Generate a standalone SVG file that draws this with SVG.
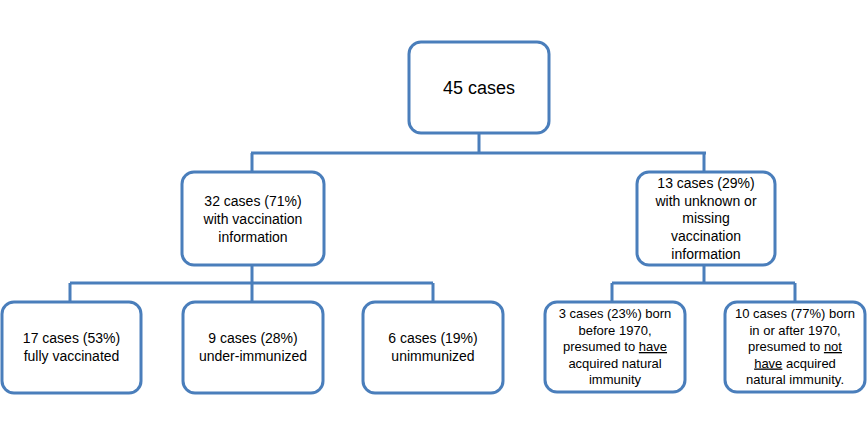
<svg xmlns="http://www.w3.org/2000/svg" width="867" height="442" viewBox="0 0 867 442">
<style>
.box{fill:#fff;stroke:#4a7ebb;stroke-width:3}
.ln{fill:none;stroke:#4a7ebb;stroke-width:3}
text{font-family:"Liberation Sans",Arial,sans-serif;fill:#000;text-anchor:middle}
.m{font-size:14px}
.s{font-size:13px}
.u{text-decoration:underline}
</style>
<rect width="867" height="442" fill="#fff"/>
<g id="connectors">
<path class="ln" d="M479 133V153M251 153H706M252 153V172M704 153V172"/>
<path class="ln" d="M252 265V283M70 283H433M70 283V302M252 283V302M433 283V302"/>
<path class="ln" d="M704 265V283M612 283H795M612 283V302M795 283V302"/>
</g>
<g id="n0"><rect class="box" x="409" y="42" width="140" height="91" rx="12"/><text x="479" y="94" style="font-size:18px">45 cases</text></g>
<g id="n1"><rect class="box" x="182" y="172" width="142" height="93" rx="12"/>
<text class="m" x="253"><tspan x="253" y="206">32 cases (71%)</tspan><tspan x="253" y="224">with vaccination</tspan><tspan x="253" y="242">information</tspan></text></g>
<g id="n2"><rect class="box" x="637" y="172" width="138" height="93" rx="12"/>
<text class="m"><tspan x="706" y="188">13 cases (29%)</tspan><tspan x="706" y="205.7">with unknown  or</tspan><tspan x="706" y="223.4">missing</tspan><tspan x="706" y="241">vaccination</tspan><tspan x="706" y="258.8">information</tspan></text></g>
<g id="n3"><rect class="box" x="2" y="302" width="139" height="91" rx="12"/>
<text class="m"><tspan x="71.5" y="343">17 cases (53%)</tspan><tspan x="71.5" y="360.5">fully vaccinated</tspan></text></g>
<g id="n4"><rect class="box" x="183" y="302" width="140" height="91" rx="12"/>
<text class="m"><tspan x="253" y="343">9 cases (28%)</tspan><tspan x="253" y="360.5">under-immunized</tspan></text></g>
<g id="n5"><rect class="box" x="363" y="302" width="140" height="91" rx="12"/>
<text class="m"><tspan x="433" y="343">6 cases (19%)</tspan><tspan x="433" y="360.5">unimmunized</tspan></text></g>
<g id="n6"><rect class="box" x="545" y="302" width="140" height="90" rx="12"/>
<text class="s"><tspan x="615" y="318">3 cases (23%) born</tspan><tspan x="615" y="334.5">before 1970,</tspan><tspan x="615" y="351">presumed to <tspan class="u">have</tspan></tspan><tspan x="615" y="367.5">acquired natural</tspan><tspan x="615" y="384">immunity</tspan></text></g>
<g id="n7"><rect class="box" x="725" y="302" width="140" height="90" rx="12"/>
<text class="s"><tspan x="795" y="318">10 cases (77%) born</tspan><tspan x="795" y="334.5">in or after 1970,</tspan><tspan x="795" y="351">presumed to <tspan class="u">not</tspan></tspan><tspan x="795" y="367.5"><tspan class="u">have</tspan> acquired</tspan><tspan x="795" y="384">natural immunity.</tspan></text></g>
</svg>
